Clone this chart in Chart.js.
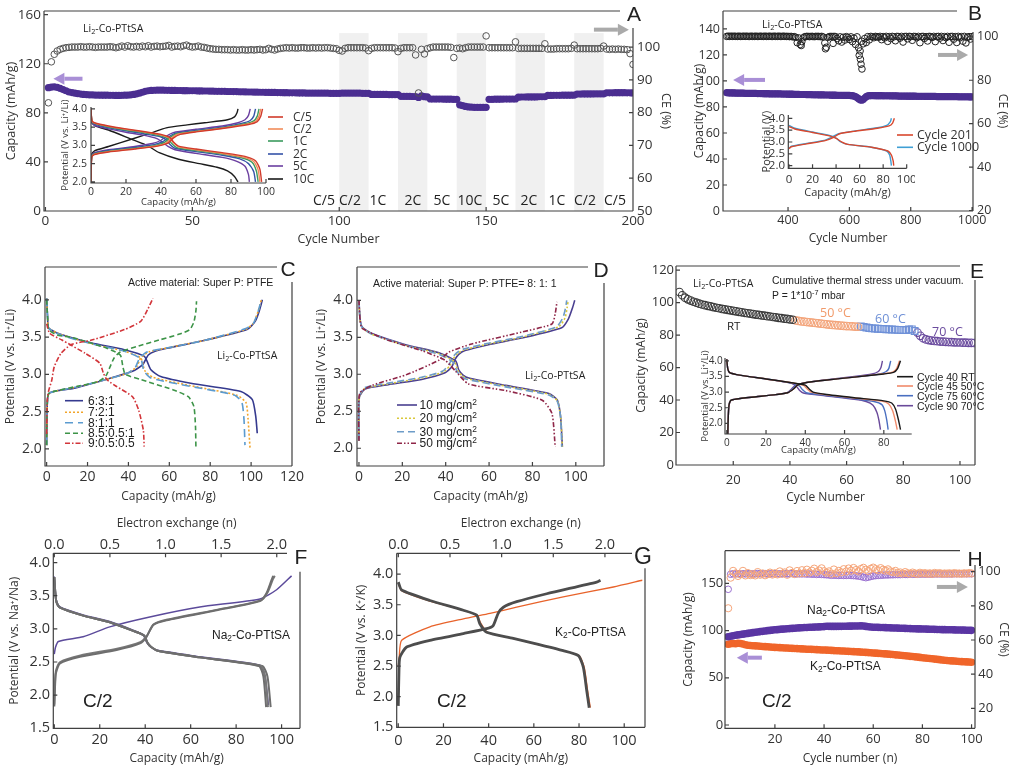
<!DOCTYPE html>
<html><head><meta charset="utf-8">
<script src="https://cdn.jsdelivr.net/npm/chart.js@4.4.1/dist/chart.umd.min.js"></script>
<style>
html,body{margin:0;padding:0;background:#fff;}
#wrap{position:relative;width:1017px;height:770px;overflow:hidden;background:#fff;}
canvas{position:absolute;}
.t{position:absolute;line-height:1;white-space:nowrap;color:#222;font-family:'Liberation Sans',Arial,sans-serif;}
.t sub{font-size:0.7em;vertical-align:-0.25em;line-height:0;}
.t sup{font-size:0.7em;vertical-align:0.5em;line-height:0;}
svg{position:absolute;left:0;top:0;}
</style></head><body><div id="wrap"></div>
<script>
// ================= DATA =================
// Panel A – rate capability (cycles 1-200)
const A_cap = [100.5,101,101.2,100.8,100,99,98,97,96.5,96,
95.6,95.3,95,94.8,94.7,94.6,94.5,94.5,94.4,94.4,
94.4,94.3,94.3,94.2,94.2,94.3,94.4,94.5,94.7,95,
95.5,96,96.8,97.5,98,98.3,98.4,98.5,98.5,98.5,
98.4,98.4,98.3,98.3,98.2,98.2,98.1,98.1,98,98,
98,97.9,97.9,97.8,97.8,97.7,97.7,97.6,97.6,97.5,
97.5,97.4,97.4,97.3,97.3,97.2,97.2,97.1,97,97,
96.9,96.9,96.8,96.8,96.7,96.7,96.6,96.6,96.5,96.5,
96.4,96.4,96.3,96.3,96.3,96.2,96.2,96.2,96.1,96.1,
96.1,96,96,96,96,96,95.9,95.9,95.9,95.9,
96,96,96,96,96,96,96,95.9,95.9,95.9,
95,95,95,95,95,95,94.9,94.9,94.9,94.9,
93.5,93.5,93.4,93.4,93.3,93.3,92.5,93.8,93.2,93,
91.3,91.3,91.2,91.2,91.2,91.1,91.1,91.1,91,91,
86.5,85.8,85.2,84.8,84.6,84.5,84.5,84.4,84.4,84.5,
91,91,91.1,91.1,91.1,91.2,91.2,91.2,91.3,91.3,
92.8,92.9,92.9,93,93,93,93,93.1,93.1,93.1,
94.2,94.2,94.3,94.3,94.3,94.4,94.4,94.4,94.4,94.5,
95.3,95.3,95.4,95.4,95.4,95.4,95.5,95.5,95.5,95.5,
96.3,96.3,96.3,96.4,96.4,96.4,96.4,96.3,96.3,96.2];
const A_ce = [83,95.5,97.8,98.8,99.3,99.6,99.8,99.9,100,100,
100,100.1,100,100,100.1,100,99.9,100,100,100,
100,100.1,100,99.8,100,100.3,100,100.4,100.1,100,
100.2,100,100.3,100.1,100.4,100,100.2,100.3,100.1,100.2,
100.3,100.5,100,100.2,100.3,100.1,100.4,100.6,100.2,100,
100.1,100.3,100,99.9,99.7,99.5,99.4,99.3,99.3,99.2,
99.2,99.2,99.1,99.2,99.1,99.1,99.2,99.1,99.1,99.2,
99.1,99.2,99.3,99.1,99.2,99.6,99.3,99.1,99.4,99.6,
99.7,99.8,99.7,99.8,99.7,99.7,99.8,99.8,99.7,99.7,
99.8,99.7,99.8,99.7,99.8,99.8,99.7,99.6,99.5,99,
98.8,99.6,99.8,99.8,99.8,99.8,99.8,99.8,99.7,98.9,
99.6,99.8,99.8,99.8,99.8,99.8,99.8,99.8,99.7,98.6,
99.6,99.8,99.8,99.8,99.8,97.6,86,99.3,97.9,99.5,
99.8,100,100,100,100,100,100,99.9,96.8,99.6,
99.7,99.5,99.8,100,100,100,100,100,100,103.4,
99.8,99.8,99.8,99.8,99.8,99.8,99.8,99.8,99.8,101.6,
99.6,99.6,99.6,99.6,99.6,99.6,99.6,99.6,99.6,101,
99.4,99.4,99.4,99.5,99.5,99.5,99.5,99.5,99.6,100.6,
99.5,99.5,99.5,99.5,99.5,99.5,99.5,99.5,99.6,100.3,
99.4,99.3,99.4,99.3,99.4,99.3,99.3,99.2,98,94.7];
const A_cycles = Array.from({length:A_cap.length},(_,i)=>i+1);
const A_bands = [[100,110],[120,130],[140,150],[160,170],[180,190]];
const A_rateLabels = ['C/5','C/2','1C','2C','5C','10C','5C','2C','1C','C/2','C/5'];
// Panel A inset (capacity, potential) pairs
const A_rates = ['C/5','C/2','1C','2C','5C','10C'];
const A_rateColors = ['#d13b2b','#f28c5a','#3b9a5e','#3553a8','#6b3fa0','#1b1b1b'];
const A_chg = [
 [0,2.0,0.4,2.68,2,2.75,10,2.82,25,2.9,38,2.98,44,3.06,47,3.2,51,3.3,60,3.37,75,3.46,90,3.57,95,3.65,97,3.8,98,4.0],
 [0,2.0,0.4,2.69,2,2.76,10,2.83,25,2.91,38,2.99,43,3.07,46,3.2,50,3.31,60,3.38,75,3.47,89,3.58,94,3.66,96,3.8,97,4.0],
 [0,2.0,0.4,2.7,2,2.77,10,2.84,25,2.92,37,3.0,42,3.08,45,3.21,49,3.32,60,3.39,75,3.48,88,3.59,93,3.67,95,3.8,96,4.0],
 [0,2.0,0.4,2.71,2,2.78,10,2.86,25,2.94,36,3.02,41,3.1,44,3.22,48,3.33,60,3.41,75,3.5,86,3.6,91,3.68,93,3.8,94,4.0],
 [0,2.0,0.4,2.73,2,2.8,10,2.88,25,2.97,35,3.05,40,3.14,43,3.25,47,3.35,60,3.44,75,3.53,84,3.62,88,3.7,90,3.82,91,4.0],
 [0,2.0,0.4,2.75,2,2.85,10,2.97,24,3.18,35,3.35,43,3.48,55,3.56,65,3.62,78,3.7,82,3.78,83.5,3.9,84,4.0]];
const A_dis = [
 [0,4.0,0.5,3.68,2,3.62,10,3.53,20,3.45,30,3.38,40,3.3,45,3.22,47,3.1,50,2.98,60,2.9,75,2.8,88,2.7,94,2.58,96.5,2.35,97.5,2.0],
 [0,4.0,0.5,3.67,2,3.61,10,3.52,20,3.44,30,3.37,40,3.28,45,3.2,47,3.08,50,2.96,60,2.88,75,2.78,87,2.68,93,2.56,95.5,2.33,96.5,2.0],
 [0,4.0,0.5,3.66,2,3.6,10,3.5,20,3.42,30,3.35,40,3.26,44,3.18,46,3.06,49,2.94,60,2.86,75,2.76,86,2.66,92,2.54,94.5,2.3,95.5,2.0],
 [0,4.0,0.5,3.65,2,3.58,10,3.48,20,3.4,30,3.32,40,3.23,43,3.15,45,3.03,48,2.92,60,2.83,75,2.73,85,2.63,90,2.5,93,2.28,94,2.0],
 [0,4.0,0.5,3.63,2,3.55,10,3.45,20,3.36,30,3.28,38,3.18,41,3.08,44,2.97,48,2.88,60,2.78,75,2.67,83,2.57,88,2.43,90,2.2,90.5,2.0],
 [0,4.0,0.5,3.62,3,3.52,10,3.42,24,3.15,32,3.0,39,2.8,50,2.62,62,2.5,72,2.4,78,2.3,82,2.15,84,2.0]];

// Panel B – long cycling (cycles 200-1000 every 5)
const B_cap = [91.0,90.9,90.9,90.8,90.8,90.8,90.7,90.7,90.7,90.6,90.6,90.6,90.5,90.5,90.5,90.5,90.4,90.4,90.4,90.4,
90.3,90.3,90.3,90.3,90.2,90.2,90.2,90.2,90.1,90.1,90.1,90.1,90.0,90.0,90.0,90.0,89.9,89.9,89.9,89.9,
89.8,89.8,89.8,89.8,89.7,89.7,89.7,89.7,89.6,89.6,89.6,89.6,89.5,89.5,89.5,89.5,89.4,89.4,89.4,89.4,
89.3,89.3,89.3,89.3,89.2,89.2,89.2,89.2,89.1,89.1,89.1,89.1,89.0,89.0,89.0,89.0,88.9,88.9,88.9,88.9,
88.9,88.8,88.7,88.4,88.0,87.3,86.4,85.6,85.2,85.8,86.9,87.9,88.5,88.7,88.8,88.8,88.8,88.7,88.7,88.7,
88.7,88.7,88.6,88.6,88.6,88.6,88.6,88.5,88.5,88.5,88.5,88.5,88.4,88.4,88.4,88.4,88.4,88.4,88.3,88.3,
88.3,88.3,88.3,88.3,88.2,88.2,88.2,88.2,88.2,88.2,88.1,88.1,88.1,88.1,88.1,88.1,88.1,88.0,88.0,88.0,
88.0,88.0,88.0,88.0,87.9,87.9,87.9,87.9,87.9,87.9,87.9,87.8,87.8,87.8,87.8,87.8,87.8,87.8,87.8,87.7,
87.7];
const B_ce = [100.2,100.3,100.2,100.3,100.2,100.3,100.2,100.2,100.3,100.2,100.2,100.3,100.2,100.3,100.2,100.2,100.3,100.2,100.2,100.3,
100.2,100.2,100.3,100.2,100.2,100.3,100.2,100.2,100.3,100.2,100.2,100.3,100.2,100.2,100.3,100.2,100.2,100.3,100.2,100.2,
100.2,100.1,100.2,100.0,100.1,99.8,97.3,99.5,96.5,97.8,99.6,100.1,100.2,100.2,100.1,100.2,100.2,100.1,100.2,100.2,
100.2,100.1,100.2,99.9,97.2,95.2,99.8,100.1,100.2,100.1,100.2,100.1,99.2,98.2,100.0,97.6,99.8,98.5,100.1,99.7,
98.8,100.0,97.8,99.4,96.5,100.0,95.0,93.5,98.0,96.8,99.2,97.4,100.1,98.6,100.2,100.0,99.6,100.2,100.1,99.8,
100.2,98.7,100.1,99.5,100.2,97.9,100.1,99.2,100.2,100.0,98.2,100.2,100.1,99.4,100.2,97.6,100.1,100.2,99.1,100.2,
100.1,98.4,100.2,100.1,99.6,100.2,97.3,100.1,100.2,99.3,100.1,98.1,100.2,100.1,99.7,100.2,97.8,100.1,100.2,99.4,
100.2,98.3,100.1,99.6,100.2,97.5,100.1,100.2,98.9,100.1,97.4,100.2,99.5,100.1,98.0,100.2,97.2,99.8,100.1,99.0,
100.1];
const B_cycles = Array.from({length:B_cap.length},(_,i)=>200+5*i);
const B_ceOutCycles = [632,636,638,641,547,443,522];
const B_ceOut = [91.5,89.7,87.4,85.2,97.0,96.0,94.5];
const B_in201_c = [0,2.72,2,2.8,15,2.92,30,3.05,38,3.2,43,3.35,55,3.45,75,3.58,85,3.68,88,3.8,89.5,4.0];
const B_in201_d = [0,3.65,5,3.55,20,3.4,35,3.25,40,3.15,45,3.0,50,2.9,70,2.78,84,2.62,87,2.45,88.5,2.2,89,2.0];
const B_in1000_c = [0,2.74,2,2.82,15,2.94,30,3.07,37,3.22,42,3.35,55,3.46,75,3.6,83,3.7,86,3.85,87,4.0];
const B_in1000_d = [0,3.7,5,3.58,20,3.42,35,3.27,40,3.17,44,3.0,50,2.9,70,2.78,83,2.62,85.5,2.45,86.5,2.2,87,2.0];

// Panel C – electrode composition
const C_names = ['6:3:1','7:2:1','8:1:1','8.5:0.5:1','9:0.5:0.5'];
const C_chg = [
 [0,2.05,0.3,2.6,1,2.74,5,2.78,13,2.81,29,2.93,42,3.04,47,3.13,49.7,3.26,53,3.31,59,3.35,78,3.46,98,3.6,102,3.71,104,3.85,105.5,4.0],
 [0,2.05,0.3,2.6,1,2.74,5,2.78,13,2.82,29,2.93,40,3.02,44,3.1,46,3.22,50,3.3,60,3.36,78,3.46,97,3.6,101,3.68,103.5,3.85,105,4.0],
 [0,2.05,0.3,2.6,1,2.74,5,2.78,13,2.82,29,2.93,40,3.02,43.5,3.1,45.5,3.22,49,3.3,60,3.36,78,3.46,97,3.61,101,3.68,103.5,3.85,105,4.0],
 [0,2.05,0.3,2.6,1,2.74,5,2.78,15,2.84,25,2.9,29,2.98,31,3.1,33,3.22,36,3.3,45,3.38,55,3.46,65,3.54,70,3.6,72,3.7,73,3.85,73.3,3.98],
 [0,2.2,0.3,2.65,1,2.78,2.5,2.92,3.7,3.1,7,3.28,12,3.4,22,3.46,38,3.6,46,3.71,49.4,3.87,52,4.02]];
const C_dis = [
 [0,4.02,0.5,3.75,1,3.62,7.5,3.53,22,3.42,38,3.33,47.8,3.24,51,3.06,55.8,2.97,70.5,2.88,95,2.77,100.6,2.66,102.3,2.43,103,2.21],
 [0,4.02,0.5,3.75,1,3.62,7.5,3.53,22,3.41,38,3.31,46,3.22,48,3.05,52,2.96,70,2.85,93,2.72,97.5,2.62,98.5,2.4,99.5,2.0],
 [0,4.02,0.5,3.75,1,3.62,7.5,3.52,22,3.41,38,3.31,46,3.21,47.5,3.05,51,2.95,70,2.84,92,2.72,95.5,2.62,96.5,2.4,97,2.05],
 [0,4.0,0.5,3.75,1,3.6,5,3.53,13,3.49,29.4,3.35,36,3.26,37.3,3.1,38.5,3.0,46,2.93,62,2.79,69.3,2.7,72,2.57,72.8,2.3,73,2.03],
 [0,3.68,1.5,3.55,7.5,3.46,19,3.28,26,3.15,27.7,3.02,29.4,2.93,34,2.84,42,2.7,45,2.52,47.3,2.25,47.7,2.03]];

// Panel D – mass loading
const D_names = ['10 mg/cm<sup>2</sup>','20 mg/cm<sup>2</sup>','30 mg/cm<sup>2</sup>','50 mg/cm<sup>2</sup>'];
const D_chg = [
 [0,2.1,0.2,2.69,2.8,2.8,13.5,2.86,28.9,2.93,39.7,3.02,42.8,3.1,44.3,3.2,46,3.27,48.9,3.32,59.7,3.4,75,3.49,93.5,3.63,96.6,3.75,98.5,3.9,99.5,4.0],
 [0,2.1,0.2,2.7,2.8,2.81,13.5,2.87,28.9,2.95,39,3.03,42,3.12,43.5,3.21,45.5,3.28,48.5,3.33,59.7,3.41,75,3.5,92,3.64,95,3.76,96,3.9,96.5,4.0],
 [0,2.1,0.2,2.71,2.8,2.82,13.5,2.88,28.9,2.96,38.5,3.04,41.5,3.13,43,3.22,45,3.29,48,3.34,59.7,3.42,75,3.51,91,3.64,94,3.76,95.3,3.9,95.8,4.0],
 [0,2.1,0.3,2.74,6.1,2.85,21.5,2.99,36.9,3.19,41.5,3.3,52,3.41,75,3.57,89,3.68,90.5,3.82,91.3,3.98]];
const D_dis = [
 [0,4.0,0.5,3.75,1.5,3.64,6,3.55,21.5,3.4,36.9,3.29,44.6,3.18,46,3.06,48,2.99,50.7,2.95,67.6,2.85,87.6,2.74,91.5,2.65,93,2.42,93.8,2.02],
 [0,4.0,0.5,3.74,1.5,3.63,6,3.54,21.5,3.39,36.9,3.28,44,3.17,45.5,3.06,47.5,2.98,50,2.94,67.6,2.84,87.6,2.73,91.5,2.64,93,2.42,93.8,2.02],
 [0,4.0,0.5,3.74,1.5,3.63,6,3.54,21.5,3.39,36.9,3.27,43.5,3.16,45,3.05,47,2.97,50,2.93,67.6,2.83,87.6,2.72,91.5,2.63,93,2.42,93.5,2.02],
 [0,4.0,0.5,3.74,1.5,3.62,13.5,3.46,28.9,3.32,39.7,3.19,44.3,3.05,50.5,2.87,67.6,2.78,84.5,2.65,89,2.47,90.5,2.02]];

// Panel E – thermal stress (capacity per cycle)
const E_RT = [106.5,104.5,103,102,101.2,100.5,99.9,99.3,98.8,98.4,98,97.6,97.2,96.8,96.5,96.1,95.8,95.5,95.2,94.9,
94.6,94.3,94,93.7,93.4,93.2,92.9,92.6,92.4,92.1,91.9,91.6,91.4,91.1,90.9,90.6,90.4,90.1,89.9,89.6,89.4];
const E_50 = [89,88.7,88.4,88.2,88,87.8,87.6,87.4,87.2,87,86.8,86.6,86.4,86.2,86.1,85.9,85.8,85.6,85.5,85.4,85.3,85.2,85.1];
const E_60 = [85.3,85,84.6,84.3,84.1,84,83.9,83.8,83.7,83.6,83.5,83.4,83.3,83.2,83.2,83.1,83,83.4,83.5,82.5];
const E_70 = [81.5,79.5,78,77.3,76.9,76.6,76.4,76.2,76,75.9,75.8,75.7,75.6,75.5,75.4,75.4,75.3,75.3,75.2,75.2,75.1];
const E_starts = [1,42,65,85];
const E_inNames = ['Cycle 40 RT','Cycle 45 50°C','Cycle 75 60°C','Cycle 90 70°C'];
const E_inColors = ['#1a1a1a','#f08a6a','#4a6fc0','#6a4a9a'];
const E_chg = [
 [0.5,1.65,1,2.5,2,2.73,5,2.78,15,2.85,25,2.92,31,2.98,34,3.1,36,3.22,40,3.3,50,3.38,65,3.48,80,3.58,85,3.63,87,3.75,88.5,4.0],
 [0.5,1.65,1,2.5,2,2.73,5,2.78,15,2.85,25,2.92,31,2.98,34,3.1,36,3.22,40,3.3,50,3.38,65,3.48,80,3.59,84.5,3.64,86.5,3.75,88,4.0],
 [0.5,1.65,1,2.5,2,2.73,5,2.78,15,2.85,25,2.92,31,2.98,33.5,3.1,35.5,3.22,40,3.3,50,3.38,65,3.48,78,3.58,81,3.65,82.5,3.75,83.5,4.0],
 [0.5,1.65,1,2.5,2,2.73,5,2.78,15,2.85,25,2.92,31,2.99,33,3.1,35,3.22,40,3.3,50,3.39,65,3.5,74,3.58,77,3.65,78.5,3.78,79.3,4.0]];
const E_dis = [
 [0,4.05,0.5,3.75,1.5,3.62,5,3.56,20,3.42,33,3.3,40,3.22,42,3.1,44,3.0,50,2.93,65,2.82,80,2.72,84,2.65,86,2.45,87.5,2.1,88.5,1.8],
 [0,4.05,0.5,3.75,1.5,3.62,5,3.56,20,3.42,33,3.3,39,3.22,41,3.1,43,3.0,50,2.92,65,2.81,79,2.71,82.5,2.62,84.5,2.4,86,2.05,86.8,1.8],
 [0,4.05,0.5,3.75,1.5,3.62,5,3.56,20,3.42,33,3.29,37,3.2,38.5,3.08,40.5,2.98,50,2.9,65,2.79,75,2.7,79,2.6,80.5,2.4,81.5,2.1,82.2,1.8],
 [0,4.05,0.5,3.75,1.5,3.62,5,3.56,20,3.42,33,3.28,35.5,3.18,37,3.06,39,2.97,50,2.88,65,2.77,71,2.7,74.5,2.58,76.5,2.35,77.5,2.1,78.3,1.8]];

// Panel F – Na
const F_purple_c = [0,2.62,0.5,2.72,1.8,2.81,12.7,2.88,24.4,3.03,42,3.18,64,3.33,90.5,3.45,97.8,3.59,104.4,3.8];
const F_purple_d = [0,3.79,0.5,3.55,1,3.42,2.5,3.33,12.7,3.21,24.4,3.11,34.7,2.98,39.1,2.91,40.6,2.8,42,2.74,45,2.68,64,2.58,90.5,2.45,92.7,2.28,94.2,1.85];
const F_grey_c1 = [0,1.83,0.4,2.2,0.7,2.33,2.5,2.48,11.3,2.58,27.4,2.68,37.7,2.78,40.6,2.88,43.5,3.06,49.4,3.13,71.4,3.28,90.5,3.42,93.4,3.54,95.6,3.74,96.3,3.8];
const F_grey_c2 = [0,1.86,0.4,2.25,0.8,2.38,2.6,2.5,11.5,2.6,27.6,2.7,37.8,2.8,40.8,2.9,43.8,3.07,49.8,3.14,71.8,3.29,91,3.43,94,3.56,96.2,3.75,97,3.8];
const F_grey_d1 = [0,3.78,0.5,3.52,1,3.4,2.5,3.32,12.7,3.2,24.4,3.1,34.7,2.97,39.5,2.9,41,2.79,42.5,2.73,45.5,2.67,64,2.57,90,2.44,92,2.28,93.2,1.82];
const F_grey_d2 = [0,3.78,0.5,3.52,1,3.4,2.5,3.32,12.7,3.2,24.4,3.1,34.7,2.97,39.5,2.9,41,2.79,42.5,2.73,45.5,2.67,64,2.57,90.8,2.44,92.8,2.28,94.0,1.82];
const F_grey_d3 = [0,3.78,0.5,3.52,1,3.4,2.5,3.32,12.7,3.2,24.4,3.1,34.7,2.97,39.5,2.9,41,2.79,42.5,2.73,45.5,2.67,64,2.57,91.5,2.44,93.8,2.28,95.2,1.82];

// Panel G – K
const G_grey_c = [0,1.85,0.3,2.4,0.7,2.64,3.7,2.81,14,2.92,28.8,3.03,39.1,3.11,42,3.16,44.2,3.36,46.5,3.46,52.4,3.55,65.7,3.68,87.8,3.87,89.5,3.9];
const G_orange_c = [0,2.5,0.4,2.64,1.5,2.92,14,3.14,28.8,3.27,40.6,3.36,52.4,3.46,73,3.63,95.2,3.79,108,3.9];
const G_grey_d = [0,3.87,1.5,3.74,14,3.57,28.8,3.41,34.7,3.33,36.1,3.19,39.1,3.05,50.9,2.95,73,2.75,79.7,2.67,81.9,2.48,83.4,2.1,84.5,1.82];
const G_orange_d = [0,3.85,1.5,3.73,14,3.56,28.8,3.41,34.7,3.33,36.5,3.2,39.5,3.05,50.9,2.95,73,2.75,80,2.67,82.3,2.48,83.8,2.1,85,1.82];

// Panel H – Na / K cycling (cycles 1-100)
const H_naCap = [93.5,94,94.5,95,95.4,95.8,96.2,96.6,97,97.4,
97.8,98.2,98.5,98.9,99.2,99.6,99.9,100.2,100.5,100.8,
101,101.3,101.5,101.7,101.9,102.1,102.3,102.5,102.7,102.9,
103,103.2,103.3,103.5,103.6,103.7,103.8,103.9,104,104.2,
104.6,104.5,104.4,104.4,104.4,104.5,104.5,104.6,104.6,104.7,
104.7,104.8,104.8,104.9,105,104.8,104.4,104,103.8,103.6,
103.5,103.4,103.3,103.2,103.1,103,102.9,102.8,102.7,102.6,
102.5,102.4,102.3,102.2,102.1,102,101.9,101.8,101.8,101.7,
101.6,101.5,101.4,101.4,101.3,101.2,101.1,101,101,100.9,
100.8,100.8,100.7,100.6,100.6,100.5,100.5,100.4,100.3,100.2];
const H_kCap = [85.5,86,86.3,86,86.5,86.3,85.8,85,84.5,84.2,
84,83.8,83.6,83.4,83.2,83,82.8,82.6,82.4,82.2,
82.1,81.9,81.8,81.6,81.5,81.3,81.2,81,80.9,80.7,
80.6,80.5,80.3,80.2,80.1,79.9,79.8,79.7,79.5,79.4,
79.3,79.1,79,78.8,78.7,78.6,78.4,78.3,78.1,78,
77.8,77.7,77.5,77.4,77.2,77,76.9,76.7,76.5,76.3,
76.1,75.9,75.7,75.5,75.3,75.1,74.8,74.6,74.3,74.1,
73.8,73.6,73.3,73,72.7,72.5,72.2,71.9,71.6,71.3,
71,70.7,70.4,70.1,69.8,69.5,69.2,68.9,68.6,68.3,
68.1,67.9,67.7,67.5,67.3,67.1,67,66.8,66.7,66.5];
const H_naCE = [89.7,98.5,98.8,98.7,98.8,98.6,98.8,98.7,98.9,98.7,
98.8,98.7,98.9,98.8,98.7,98.9,98.8,98.7,98.8,98.9,
98.8,98.7,98.8,98.9,98.7,98.8,98.9,98.8,98.7,98.8,
98.7,98.8,98.6,98.7,98.5,98.6,98.4,98.5,98.4,98.3,
98.2,98.1,97.9,98,97.9,97.8,97.9,97.8,97.8,97.9,
97.8,97.7,97.6,97.4,97.2,96.8,96.5,96.8,97.2,97.5,
97.7,97.8,97.9,98,98.1,98.1,98.2,98.2,98.3,98.3,
98.3,98.4,98.4,98.4,98.5,98.5,98.5,98.5,98.6,98.6,
98.6,98.6,98.6,98.6,98.7,98.7,98.7,98.7,98.7,98.7,
98.7,98.7,98.8,98.8,98.8,98.8,98.8,98.8,98.8,98.8];
const H_kCE = [78.6,96.5,100.5,99,97.5,98.5,100.5,97.8,99.2,98,
98.5,97.8,99.8,98.2,99,97.9,98.6,99.5,98.3,99.1,
98.4,100.2,98.8,99.6,98.2,100.8,99.3,98.6,100.4,99,
100.9,99.2,101.2,99.5,100.6,101.8,99.8,100.7,102,100.3,
99.4,100.2,98.8,101.3,99.1,100.5,99.6,101.5,100.1,101.9,
100.6,102.2,101,100.2,101.6,102.3,101.2,100.4,101.7,102.4,
101.5,100.8,102.1,101.2,100.6,101.4,100.2,99.8,100.5,99.3,
99.6,98.9,99.8,99.1,98.8,99.5,99,98.7,99.4,98.9,
99.2,98.8,99.1,98.7,99.3,98.9,99.2,98.8,99,98.9,
99.1,98.8,99.2,98.9,99,98.8,99.1,98.9,99.2,99];
const H_cycles = Array.from({length:H_naCap.length},(_,i)=>i+1);

// ================= HELPERS =================
Chart.defaults.font.family = "'Open Sans', sans-serif";
Chart.defaults.color = '#333';
const OS = "'Open Sans', sans-serif";
const wrap = document.getElementById('wrap');
const DECOR = {};
function P(a){const o=[];for(let i=0;i<a.length;i+=2)o.push({x:a[i],y:a[i+1]});return o;}
function XY(xs,ys){return ys.map((y,i)=>({x:xs[i],y:y}));}
function seqFrom(s,n){return Array.from({length:n},(_,i)=>s+i);}
function ln(a,color,w,dash,tension){return {data:P(a),showLine:true,pointRadius:0,pointHoverRadius:0,borderColor:color,borderWidth:w,borderDash:dash||[],tension:tension==null?0.2:tension,fill:false,yAxisID:'y',xAxisID:'x'};}
function pt(xs,ys,color,r,filled,yID,style,bw){return {data:XY(xs,ys),showLine:false,pointRadius:r,pointHoverRadius:r,pointStyle:style||'circle',
  backgroundColor:filled?color:'rgba(0,0,0,0)',borderColor:color,pointBackgroundColor:filled?color:'rgba(0,0,0,0)',pointBorderColor:color,pointBorderWidth:filled?0:(bw||1),yAxisID:yID||'y',xAxisID:'x'};}
function ax(pos,min,max,ticks,size,o){o=o||{};return {type:'linear',position:pos,min:min,max:max,
  grid:{display:false,drawTicks:false,tickLength:0},border:{display:false},
  ticks:{autoSkip:false,maxRotation:0,minRotation:0,padding:o.lp==null?3:o.lp,color:'#333',font:{size:o.fs||13},
    callback:function(v){return o.dec!=null?Number(v).toFixed(o.dec):String(v);}},
  title:{display:!!o.title,text:o.title||'',color:'#333',font:{size:o.ts||12},padding:{top:o.tp||0,bottom:o.tp||0}},
  afterBuildTicks:function(s){s.ticks=ticks.map(v=>({value:v}));},
  afterFit:function(s){if(pos==='top'||pos==='bottom')s.height=size;else s.width=size;s.paddingLeft=0;s.paddingRight=0;s.paddingTop=0;s.paddingBottom=0;}};}
function mk(key,box,pad,scales,datasets){
  const c=document.createElement('canvas');
  c.width=box[2];c.height=box[3];c.dataset.key=key;
  Object.assign(c.style,{left:box[0]+'px',top:box[1]+'px',width:box[2]+'px',height:box[3]+'px'});
  wrap.appendChild(c);
  return new Chart(c,{type:'scatter',data:{datasets:datasets},options:{responsive:false,maintainAspectRatio:false,animation:false,devicePixelRatio:1,events:[],
    layout:{padding:Object.assign({left:0,right:0,top:0,bottom:0},pad)},
    plugins:{legend:{display:false},tooltip:{enabled:false}},scales:scales}});
}
const decorPlugin = {
  id:'decor',
  beforeDatasetsDraw(chart){
    const d=DECOR[chart.canvas.dataset.key]; if(!d||!d.bands) return;
    const ctx=chart.ctx, xs=chart.scales.x, ys=chart.scales.y;
    ctx.save(); ctx.fillStyle=d.bands.color;
    for(const r of d.bands.ranges){
      const x0=xs.getPixelForValue(r[0]), x1=xs.getPixelForValue(r[1]);
      const y1=ys.getPixelForValue(d.bands.y1), y0=ys.getPixelForValue(d.bands.y0);
      ctx.fillRect(x0,y1,x1-x0,y0-y1);
    }
    ctx.restore();
  },
  afterDraw(chart){
    const d=DECOR[chart.canvas.dataset.key]||{}; const f=d.frame||{};
    const ctx=chart.ctx, a=chart.chartArea;
    ctx.save(); ctx.strokeStyle='#404040'; ctx.lineWidth=1.2; ctx.beginPath();
    ctx.moveTo(a.left,a.top); ctx.lineTo(a.left,a.bottom); ctx.lineTo(a.right,a.bottom);
    if(f.top){ctx.moveTo(a.left,a.top); ctx.lineTo(a.right-(f.topGap||0),a.top);}
    if(f.right){ctx.moveTo(a.right,a.top+(f.rightGap||0)); ctx.lineTo(a.right,a.bottom);}
    const L=f.tick||4;
    for(const s of Object.values(chart.scales)){
      for(const t of s.ticks){
        const p=s.getPixelForValue(t.value);
        if(s.position==='bottom'){ctx.moveTo(p,a.bottom);ctx.lineTo(p,a.bottom-L);}
        else if(s.position==='top'){ctx.moveTo(p,a.top);ctx.lineTo(p,a.top+L);}
        else if(s.position==='left'){ctx.moveTo(a.left,p);ctx.lineTo(a.left+L,p);}
        else {if(p<a.top+(f.rightGap||0))continue;ctx.moveTo(a.right,p);ctx.lineTo(a.right-L,p);}
      }
    }
    ctx.stroke();
    if(d.arrows){
      for(const ar of d.arrows){
        const xs=chart.scales.x, ys=chart.scales[ar.yID||'y'];
        const X0=xs.getPixelForValue(ar.x0), X1=xs.getPixelForValue(ar.x1), Y=ys.getPixelForValue(ar.y);
        const dir=Math.sign(X1-X0), head=11, hw=6;
        ctx.strokeStyle=ar.color; ctx.fillStyle=ar.color; ctx.lineWidth=4; ctx.lineCap='butt';
        ctx.beginPath(); ctx.moveTo(X0,Y); ctx.lineTo(X1-dir*head,Y); ctx.stroke();
        ctx.beginPath(); ctx.moveTo(X1,Y); ctx.lineTo(X1-dir*head,Y-hw); ctx.lineTo(X1-dir*head,Y+hw); ctx.closePath(); ctx.fill();
      }
    }
    ctx.restore();
  }
};
Chart.register(decorPlugin);
function T(html,x,y,size,o){o=o||{};const d=document.createElement('div');d.className='t';d.innerHTML=html;
  d.style.left=x+'px';d.style.top=y+'px';d.style.fontSize=size+'px';
  if(o.font)d.style.fontFamily=o.font; if(o.color)d.style.color=o.color;
  d.style.transform=o.center?'translate(-50%,-50%)':'translate(0,-50%)'; wrap.appendChild(d);}
const svgNS='http://www.w3.org/2000/svg';
const svg=document.createElementNS(svgNS,'svg'); svg.setAttribute('width',1017); svg.setAttribute('height',770);
function LG(x1,x2,y,color,w,dash){const l=document.createElementNS(svgNS,'line');
  l.setAttribute('x1',x1);l.setAttribute('x2',x2);l.setAttribute('y1',y);l.setAttribute('y2',y);
  l.setAttribute('stroke',color);l.setAttribute('stroke-width',w);if(dash)l.setAttribute('stroke-dasharray',dash);svg.appendChild(l);}

// ================= PANEL A =================
DECOR.A={frame:{top:true,topGap:13,right:true,rightGap:17},bands:{ranges:A_bands,y0:0,y1:145,color:'#f0f0f0'},
  arrows:[{x0:12.6,x1:2.7,y:107.8,color:'#a98fd6'},{x0:186.7,x1:198.6,y:147.8,color:'#aaaaaa'}]};
mk('A',[0,0,680,250],{top:11},{
  x:ax('bottom',-0.5,200,[0,50,100,150,200],39,{lp:2,fs:13.5,title:'Cycle Number',ts:12.5,tp:3.5}),
  y:ax('left',0,163,[0,40,80,120,160],44,{lp:3,fs:13.5,title:'Capacity (mAh/g)',ts:12.5,tp:3.5}),
  y2:ax('right',50,111,[50,60,70,80,90,100],47,{lp:4,fs:13.5,title:'CE (%)',ts:12.5,tp:6.5})
},[pt(A_cycles,A_ce,'#555',3.3,false,'y2'),pt(A_cycles,A_cap,'#4b2e91',3.6,true,'y')]);
DECOR.Ai={frame:{}};
const A_inSets=[];
for(let i=0;i<A_rates.length;i++){A_inSets.push(ln(A_chg[i],A_rateColors[i],1.4));A_inSets.push(ln(A_dis[i],A_rateColors[i],1.4));}
mk('Ai',[55,100,220,112],{top:7,right:9},{
  x:ax('bottom',0,100,[0,20,40,60,80,100],29,{lp:2.7,fs:10.5,title:'Capacity (mAh/g)',ts:9.5,tp:4.3}),
  y:ax('left',1.97,4.05,[2,2.5,3,3.5,4],36,{dec:1,lp:4,fs:10.5,title:'Potential (V vs. Li⁺/Li)',ts:9.5,tp:4.3})
},A_inSets);
const A_legY=[117,129,141,154,166,179];
A_rates.forEach((r,i)=>{LG(268,283,A_legY[i],A_rateColors[i],1.6);T(r,293,A_legY[i],12,{font:OS,color:'#333'});});
T('Li<sub>2</sub>-Co-PTtSA',83,28,10.5,{font:OS});
const A_rateX=[324,350,378,413,442,470,501,529,557,585,615];
A_rateLabels.forEach((r,i)=>T(r,A_rateX[i],200,14,{font:OS,center:true}));
T('A',634,13,21,{center:true});

// ================= PANEL B =================
DECOR.B={frame:{top:true,topGap:16,right:true,rightGap:21},
  arrows:[{x0:325,x1:221,y:100.8,color:'#a98fd6'},{x0:889,x1:987,y:120,color:'#aaaaaa'}]};
mk('B',[680,0,337,250],{top:11},{
  x:ax('bottom',188,1003,[400,600,800,1000],39,{lp:1.8,fs:12.5,title:'Cycle Number',ts:12,tp:3.8}),
  y:ax('left',0,153.8,[0,20,40,60,80,100,120,140],43,{lp:3,fs:12.5,title:'Capacity (mAh/g)',ts:12,tp:12.8}),
  y2:ax('right',19.8,111.9,[20,40,60,80,100],44,{lp:4,fs:12.5,title:'CE (%)',ts:12,tp:7.8})
},[pt(B_cycles,B_ce,'#222',3.3,false,'y2'),pt(B_ceOutCycles,B_ceOut,'#222',3.3,false,'y2'),pt(B_cycles,B_cap,'#4b2e91',3.6,true,'y')]);
DECOR.Bi={frame:{}};
mk('Bi',[755,108,160,95],{top:7,right:8.3},{
  x:ax('bottom',-0.6,100,[0,20,40,60,80,100],34.7,{lp:4.6,fs:11.5,title:'Capacity (mAh/g)',ts:11,tp:3.7}),
  y:ax('left',1.89,4.14,[2,2.5,3,3.5,4],33.3,{dec:1,lp:3.3,fs:11.5,title:'Potential (V)',ts:11,tp:5.1})
},[ln(B_in201_c,'#d9482e',1.4),ln(B_in201_d,'#d9482e',1.4),ln(B_in1000_c,'#3f9fd4',1.4),ln(B_in1000_d,'#3f9fd4',1.4)]);
LG(897,913,135,'#d9482e',1.6);T('Cycle 201',917,135,12.5,{font:OS,color:'#333'});
LG(897,913,147.3,'#3f9fd4',1.6);T('Cycle 1000',917,147.3,12.5,{font:OS,color:'#333'});
T('Li<sub>2</sub>-Co-PTtSA',762,24,10.5,{font:OS});
T('B',975,12,21,{center:true});

// ================= PANEL C =================
const C_colors=['#353a8f','#f2a52a','#5b9bd0','#3d9448','#d2353a'];
const C_dash=[[],[2,2],[8,5],[5,3],[5,2,1.5,2]];
const C_svgDash=['','2 2','8 5','5 3','5 2 1.5 2'];
DECOR.C={frame:{top:true,topGap:15,right:true,rightGap:15}};
const C_sets=[];
for(let i=C_names.length-1;i>=0;i--){C_sets.push(ln(C_chg[i],C_colors[i],1.6,C_dash[i]));C_sets.push(ln(C_dis[i],C_colors[i],1.6,C_dash[i]));}
mk('C',[0,250,320,260],{top:17,right:28},{
  x:ax('bottom',-0.8,120,[0,20,40,60,80,100,120],44,{lp:2.3,fs:14,title:'Capacity (mAh/g)',ts:12,tp:6.1}),
  y:ax('left',1.77,4.44,[2,2.5,3,3.5,4],45,{dec:1,lp:3.3,fs:14,title:'Potential (V vs. Li⁺/Li)',ts:12,tp:3.8})
},C_sets);
const C_legY=[400.7,412.3,422.7,433.3,443.3];
C_names.forEach((n,i)=>{LG(65,83,C_legY[i],C_colors[i],1.6,C_svgDash[i]);T(n,88,C_legY[i],12);});
T('Active material: Super P: PTFE',128,282,10.5);
T('Li<sub>2</sub>-Co-PTtSA',217,355,10.5,{font:OS});
T('C',288,268,21,{center:true});

// ================= PANEL D =================
const D_colors=['#4a3f90','#d9c83a','#6d9cc8','#8f2648'];
const D_dash=[[],[2,2],[7,4],[5,2,1.5,2,1.5,2]];
const D_svgDash=['','2 2','7 4','5 2 1.5 2 1.5 2'];
DECOR.D={frame:{top:true,topGap:16,right:true,rightGap:16}};
const D_sets=[];
for(let i=D_chg.length-1;i>=0;i--){D_sets.push(ln(D_chg[i],D_colors[i],1.6,D_dash[i]));D_sets.push(ln(D_dis[i],D_colors[i],1.6,D_dash[i]));}
mk('D',[310,250,310,260],{top:17,right:16},{
  x:ax('bottom',-0.9,113,[0,20,40,60,80,100],44,{lp:2.3,fs:14,title:'Capacity (mAh/g)',ts:12,tp:6.1}),
  y:ax('left',1.76,4.45,[2,2.5,3,3.5,4],47,{dec:1,lp:4,fs:14,title:'Potential (V vs. Li⁺/Li)',ts:12,tp:4.8})
},D_sets);
const D_legY=[405,418.3,431.7,443.3];
D_names.forEach((n,i)=>{LG(397,417,D_legY[i],D_colors[i],1.6,D_svgDash[i]);T(n,419.5,D_legY[i],12);});
T('Active material: Super P: PTFE= 8: 1: 1',373,283,10.5);
T('Li<sub>2</sub>-Co-PTtSA',525,375,10.5,{font:OS});
T('D',601,269,21,{center:true});

// ================= PANEL E =================
DECOR.E={frame:{top:true,topGap:15,right:true,rightGap:14}};
mk('E',[630,250,387,260],{top:16,right:42},{
  x:ax('bottom',-0.2,105.3,[20,40,60,80,100],45,{lp:7.2,fs:13,title:'Cycle Number',ts:12,tp:4.8}),
  y:ax('left',0,122.5,[0,20,40,60,80,100,120],46,{lp:2,fs:13,title:'Capacity (mAh/g)',ts:12,tp:4.5})
},[pt(seqFrom(E_starts[0],E_RT.length),E_RT,'#3a3a3a',3.8,false,'y','circle',1.1),
  pt(seqFrom(E_starts[1],E_50.length),E_50,'#f3a47a',3.8,false,'y','circle',1.1),
  pt(seqFrom(E_starts[2],E_60.length),E_60,'#6e90d8',4.8,false,'y','rect',1.1),
  pt(seqFrom(E_starts[3],E_70.length),E_70,'#6a4b9e',3.8,false,'y','circle',1.1)]);
DECOR.Ei={frame:{}};
const E_sets=[];
for(let i=0;i<E_chg.length;i++){E_sets.push(ln(E_chg[i],E_inColors[i],1.4));E_sets.push(ln(E_dis[i],E_inColors[i],1.4));}
mk('Ei',[695,350,225,110],{top:8,right:8.3},{
  x:ax('bottom',-0.9,94.2,[0,20,40,60,80],26,{lp:3.3,fs:10,title:'Capacity (mAh/g)',ts:9.5,tp:4.3}),
  y:ax('left',1.66,4.09,[2,2.5,3,3.5,4],30,{dec:1,lp:2.3,fs:10,title:'Potential (V vs. Li⁺/Li)',ts:9.5,tp:4.3})
},E_sets);
const E_legY=[376.7,386,395.7,405.7];
E_inNames.forEach((n,i)=>{LG(897,913,E_legY[i],E_inColors[i],1.6);T(n,917,E_legY[i],10.5);});
T('Li<sub>2</sub>-Co-PTtSA',693,283,10.5,{font:OS});
T('Cumulative thermal stress under vacuum.',772,281,10.4);
T('P = 1*10<sup>-7</sup> mbar',772,296,10.4);
T('RT',727,326,11.5,{font:OS});
T('50 °C',820,313,12.5,{font:OS,color:'#f19a6a'});
T('60 °C',875,319,12.5,{font:OS,color:'#6d8fd6'});
T('70 °C',932,332,12.5,{font:OS,color:'#6a4b9e'});
T('E',977,270,21,{center:true});

// ================= PANEL F =================
DECOR.F={frame:{top:true,topGap:13,right:true,rightGap:18.4}};
mk('F',[0,505,320,265],{right:20},{
  x:ax('bottom',-0.44,108.1,[0,20,40,60,80,100],41.7,{lp:3,fs:14.5,title:'Capacity (mAh/g)',ts:12,tp:4.5}),
  x2:ax('top',-0.009,2.209,[0,0.5,1,1.5,2],48.3,{dec:1,lp:0,fs:14.5,title:'Electron exchange (n)',ts:12,tp:11.8}),
  y:ax('left',1.5,4.14,[1.5,2,2.5,3,3.5,4],53.3,{dec:1,lp:3.3,fs:14.5,title:'Potential (V vs. Na⁺/Na)',ts:12,tp:7.8})
},[ln(F_grey_c1,'#6e6e6e',2),ln(F_grey_c2,'#777777',2),ln(F_grey_d1,'#6e6e6e',2),ln(F_grey_d2,'#777777',2),ln(F_grey_d3,'#6e6e6e',2),
  ln(F_purple_c,'#5c4b9b',1.5),ln(F_purple_d,'#5c4b9b',1.5)]);
T('Na<sub>2</sub>-Co-PTtSA',212,635,12);
T('C/2',83,700,19);
T('F',301,556,21,{center:true});

// ================= PANEL G =================
DECOR.G={frame:{top:true,topGap:13,right:true,rightGap:15}};
mk('G',[340,505,320,265],{right:15},{
  x:ax('bottom',-0.7,109.2,[0,20,40,60,80,100],42.7,{lp:4.7,fs:14.5,title:'Capacity (mAh/g)',ts:12,tp:4.5}),
  x2:ax('top',-0.016,2.388,[0,0.5,1,1.5,2],48.3,{dec:1,lp:0,fs:14.5,title:'Electron exchange (n)',ts:12,tp:11.8}),
  y:ax('left',1.5,4.34,[1.5,2,2.5,3,3.5,4],56.7,{dec:1,lp:3.4,fs:14.5,title:'Potential (V vs. K⁺/K)',ts:12,tp:14.5})
},[ln(G_grey_c,'#4d4d4d',2.8),ln(G_grey_d,'#4d4d4d',2.8),ln(G_orange_c,'#e8632b',1.3),ln(G_orange_d,'#e8632b',1.3)]);
T('K<sub>2</sub>-Co-PTtSA',555,632,12);
T('C/2',437,700,19);
T('G',643,556,23,{center:true});

// ================= PANEL H =================
DECOR.H={frame:{top:true,topGap:15,right:true,rightGap:14.3},
  arrows:[{x0:85.9,x1:98.5,y:146.2,color:'#aaaaaa'},{x0:14.7,x1:4.5,y:71.3,color:'#a98fd6'}]};
mk('H',[670,505,347,265],{top:45.7},{
  x:ax('bottom',-0.3,101.4,[20,40,60,80,100],41.7,{lp:3.2,fs:13,title:'Cycle number (n)',ts:12,tp:4.5}),
  y:ax('left',-3.5,184.6,[0,50,100,150],55,{lp:1.7,fs:13,title:'Capacity (mAh/g)',ts:12,tp:11.1}),
  y2:ax('right',8.3,112.3,[20,40,60,80,100],42,{lp:3.3,fs:13,title:'CE (%)',ts:12,tp:6.5})
},[pt(H_cycles,H_kCE,'#f5a57a',3.6,false,'y2','circle',1),pt(H_cycles,H_naCE,'#9a70d0',3.3,false,'y2','circle',1),
  pt(H_cycles,H_naCap,'#5a35a3',3.8,true,'y'),pt(H_cycles,H_kCap,'#f0652a',3.8,true,'y')]);
T('Na<sub>2</sub>-Co-PTtSA',807,610,12);
T('K<sub>2</sub>-Co-PTtSA',810,666,12);
T('C/2',762,700,19);
T('H',975,558,21,{center:true});

wrap.appendChild(svg);
</script></body></html>
